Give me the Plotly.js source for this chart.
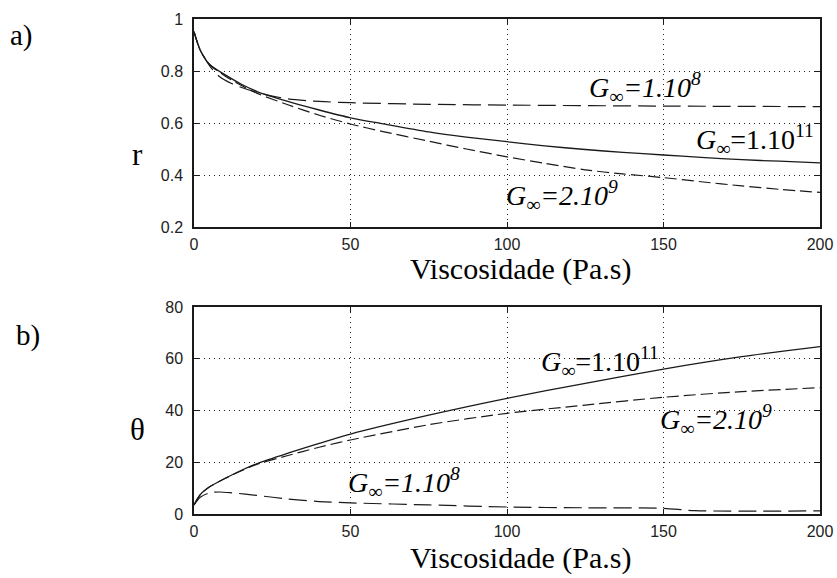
<!DOCTYPE html>
<html>
<head>
<meta charset="utf-8">
<script src="https://cdn.plot.ly/plotly-3.0.1.min.js"></script>
<style>html,body{margin:0;padding:0;background:#fff;}#chart{width:837px;height:578px;}</style>
</head>
<body>
<div id="chart"></div>
<script>
// ---- data ----
const xR = [0, 2, 5, 10, 15, 20, 30, 40, 50, 60, 75, 87, 100, 112, 125, 137, 150, 162, 175, 187, 200];
const rG11 = [0.951, 0.88, 0.825, 0.785, 0.75, 0.722, 0.683, 0.65, 0.62, 0.598, 0.566, 0.546, 0.528, 0.512, 0.498, 0.487, 0.477, 0.468, 0.459, 0.453, 0.447];
const rG2e9 = [0.951, 0.88, 0.825, 0.78, 0.745, 0.715, 0.67, 0.63, 0.596, 0.568, 0.53, 0.5, 0.47, 0.445, 0.42, 0.404, 0.39, 0.374, 0.358, 0.345, 0.333];
const xR8 = [0, 2, 5, 8, 12, 20, 30, 40, 50, 75, 100, 150, 200];
const rG8 = [0.951, 0.88, 0.82, 0.78, 0.752, 0.718, 0.693, 0.683, 0.678, 0.672, 0.669, 0.665, 0.663];

const xT = [0, 2, 5, 10, 15, 20, 30, 40, 50, 75, 100, 125, 150, 175, 200];
const tG11 = [3.5, 7.5, 10.5, 13.8, 16.8, 19.4, 23.5, 27.3, 30.9, 38.2, 44.7, 50.5, 56, 60.8, 64.7];
const tG2e9 = [3.5, 7.5, 10.5, 13.8, 16.6, 19.2, 22.6, 25.8, 28.6, 34.5, 38.9, 42.1, 45.1, 47.3, 48.8];
const xT8 = [0, 2, 5, 8, 12, 20, 30, 40, 50, 75, 100, 125, 150, 160, 200];
const tG8 = [3.5, 6.5, 8.2, 8.5, 8.2, 7.2, 5.8, 4.8, 4.3, 3.5, 2.7, 2.4, 2.2, 1.3, 1.2];

const xTicks = [0, 50, 100, 150, 200];
const rTicks = [0.2, 0.4, 0.6, 0.8, 1];
const rTickText = ['0.2', '0.4', '0.6', '0.8', '1'];
const tTicks = [0, 20, 40, 60, 80];

const xTitle = 'Viscosidade (Pa.s)';

// ---- styles ----
const ink = '#1a1a1a';
const solid = {color: ink, width: 1.3, dash: 'solid', shape: 'spline', smoothing: 0.8};
const shortDash = {color: ink, width: 1.2, dash: '12px,5px', shape: 'spline', smoothing: 0.8};
const longDash = {color: ink, width: 1.2, dash: '18px,7px', shape: 'spline', smoothing: 0.8};

const traces = [
  {x: xR, y: rG11, xaxis: 'x', yaxis: 'y', mode: 'lines', line: solid},
  {x: xR, y: rG2e9, xaxis: 'x', yaxis: 'y', mode: 'lines', line: shortDash},
  {x: xR8, y: rG8, xaxis: 'x', yaxis: 'y', mode: 'lines', line: longDash},
  {x: xT, y: tG11, xaxis: 'x2', yaxis: 'y2', mode: 'lines', line: solid},
  {x: xT, y: tG2e9, xaxis: 'x2', yaxis: 'y2', mode: 'lines', line: shortDash},
  {x: xT8, y: tG8, xaxis: 'x2', yaxis: 'y2', mode: 'lines', line: longDash}
];

const SERIF = 'Liberation Serif';
const SANS = 'Liberation Sans';

function axisBase() {
  return {
    showline: true, linecolor: ink, linewidth: 1.5, mirror: 'ticks',
    ticks: 'inside', ticklen: 5, tickwidth: 1, tickcolor: ink,
    showgrid: true, gridcolor: '#222', gridwidth: 1, griddash: '1px,4px',
    zeroline: false, tickfont: {family: SANS, size: 16, color: '#222'}, fixedrange: true,
    ticklabelstandoff: 2
  };
}

const xa = Object.assign(axisBase(), {domain: [0, 1], range: [0, 200], tickvals: xTicks, anchor: 'y'});
const xa2 = Object.assign(axisBase(), {domain: [0, 1], range: [0, 200], tickvals: xTicks, anchor: 'y2'});
const ya = Object.assign(axisBase(), {domain: [0.5798, 1], range: [0.2, 1], tickvals: rTicks, ticktext: rTickText,
  anchor: 'x', ticklabelstandoff: 6});
const ya2 = Object.assign(axisBase(), {domain: [0, 0.4182], range: [0, 80], tickvals: tTicks, anchor: 'x2',
  ticklabelstandoff: 6});

function lab(text, x, y, xr, yr) {
  return {text: text, x: x, y: y, xref: xr, yref: yr, xanchor: 'left', yanchor: 'middle',
    showarrow: false, borderpad: 0, font: {family: SERIF, size: 28, color: '#000'}};
}
function paperLab(text, x, y, size) {
  return {text: text, x: x, y: y, xref: 'paper', yref: 'paper', xanchor: 'center', yanchor: 'middle',
    showarrow: false, borderpad: 0, font: {family: SERIF, size: size, color: '#000'}};
}

const annotations = [
  lab('<i>G</i><sub>∞</sub><i>=1.10<sup>8</sup></i>', 125.9, 0.738, 'x', 'y'),
  lab('<i>G</i><sub>∞</sub>=1.10<sup>11</sup>', 160.1, 0.535, 'x', 'y'),
  lab('<i>G</i><sub>∞</sub><i>=2.10<sup>9</sup></i>', 99.4, 0.323, 'x', 'y'),
  lab('<i>G</i><sub>∞</sub>=1.10<sup>11</sup>', 110.5, 59.1, 'x2', 'y2'),
  lab('<i>G</i><sub>∞</sub><i>=2.10<sup>9</sup></i>', 148.6, 36.7, 'x2', 'y2'),
  lab('<i>G</i><sub>∞</sub><i>=1.10<sup>8</sup></i>', 48.9, 12.0, 'x2', 'y2'),
  paperLab(xTitle, 0.5208, 0.495, 30),
  paperLab(xTitle, 0.5208, -0.088, 30),
  paperLab('a)', -0.2748, 0.9657, 29),
  paperLab('b)', -0.2652, 0.3596, 29),
  paperLab('r', -0.0895, 0.7253, 31),
  paperLab('θ', -0.0895, 0.1697, 31)
];

const layout = {
  width: 837, height: 578,
  margin: {l: 194, r: 17, t: 19, b: 64, pad: 0},
  paper_bgcolor: '#fff', plot_bgcolor: '#fff',
  font: {family: SERIF, size: 16, color: '#000'},
  showlegend: false,
  xaxis: xa, yaxis: ya, xaxis2: xa2, yaxis2: ya2,
  annotations: annotations
};

Plotly.newPlot('chart', traces, layout, {displayModeBar: false});
</script>
</body>
</html>
